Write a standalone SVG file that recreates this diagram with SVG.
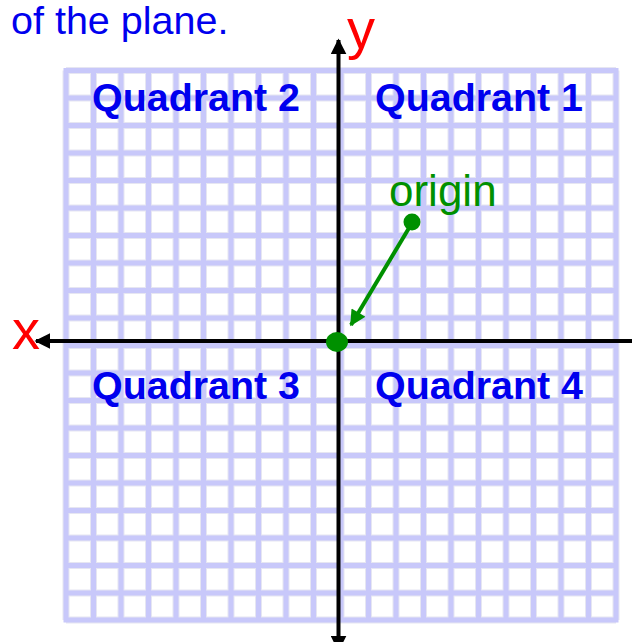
<svg xmlns="http://www.w3.org/2000/svg" width="632" height="642" viewBox="0 0 632 642">
  <style>
    .glow { stroke: #e6e6f2; stroke-width: 7; fill: none; }
    .grid { stroke: #c8c8fa; stroke-width: 5; fill: none; }
    .axis { stroke: #000; stroke-width: 4; fill: none; }
    .quad { font-family: "Liberation Sans", Arial, sans-serif; font-weight: bold; font-size: 39px; fill: #0000ee; }
    .red { font-family: "Liberation Sans", Arial, sans-serif; font-size: 56px; fill: #ff0000; }
  </style>
  <defs>
    <marker id="ah" viewBox="0 0 10 10" refX="9" refY="5" markerWidth="4" markerHeight="4" orient="auto" markerUnits="strokeWidth">
      <path d="M0,0 L10,5 L0,10 z" fill="#000"/>
    </marker>
    <marker id="gh" viewBox="0 0 10 10" refX="9" refY="5" markerWidth="4.5" markerHeight="4" orient="auto" markerUnits="strokeWidth">
      <path d="M0,0 L10,5 L0,10 z" fill="#009000"/>
    </marker>
  </defs>
  <rect width="632" height="642" fill="#fff"/>
  <text x="11" y="34" font-family="Liberation Sans, Arial, sans-serif" font-size="39.5" fill="#0000ee">of the plane.</text>
  <g id="grid">
    <path class="glow" d="M66,70.5V620 M93.5,70.5V620 M121,70.5V620 M148.5,70.5V620 M176,70.5V620 M203.5,70.5V620 M231,70.5V620 M258.5,70.5V620 M286,70.5V620 M313.5,70.5V620 M341,70.5V620 M368.5,70.5V620 M396,70.5V620 M423.5,70.5V620 M451,70.5V620 M478.5,70.5V620 M506,70.5V620 M533.5,70.5V620 M561,70.5V620 M588.5,70.5V620 M616,70.5V620 M66,70.5H616 M66,98H616 M66,125.5H616 M66,153H616 M66,180.5H616 M66,208H616 M66,235.5H616 M66,263H616 M66,290.5H616 M66,318H616 M66,345.5H616 M66,373H616 M66,400.5H616 M66,428H616 M66,455.5H616 M66,483H616 M66,510.5H616 M66,538H616 M66,565.5H616 M66,593H616 M66,620H616"/>
    <path class="grid" d="M66,68V622.5 M93.5,68V622.5 M121,68V622.5 M148.5,68V622.5 M176,68V622.5 M203.5,68V622.5 M231,68V622.5 M258.5,68V622.5 M286,68V622.5 M313.5,68V622.5 M341,68V622.5 M368.5,68V622.5 M396,68V622.5 M423.5,68V622.5 M451,68V622.5 M478.5,68V622.5 M506,68V622.5 M533.5,68V622.5 M561,68V622.5 M588.5,68V622.5 M616,68V622.5 M63.5,70.5H618.5 M63.5,98H618.5 M63.5,125.5H618.5 M63.5,153H618.5 M63.5,180.5H618.5 M63.5,208H618.5 M63.5,235.5H618.5 M63.5,263H618.5 M63.5,290.5H618.5 M63.5,318H618.5 M63.5,345.5H618.5 M63.5,373H618.5 M63.5,400.5H618.5 M63.5,428H618.5 M63.5,455.5H618.5 M63.5,483H618.5 M63.5,510.5H618.5 M63.5,538H618.5 M63.5,565.5H618.5 M63.5,593H618.5 M63.5,620H618.5"/>
  </g>
  <g id="q2"><text class="quad" x="92" y="111" textLength="208" lengthAdjust="spacingAndGlyphs">Quadrant 2</text></g>
  <g id="q1"><text class="quad" x="375" y="111" textLength="208" lengthAdjust="spacingAndGlyphs">Quadrant 1</text></g>
  <g id="q3"><text class="quad" x="92" y="399" textLength="208" lengthAdjust="spacingAndGlyphs">Quadrant 3</text></g>
  <g id="q4"><text class="quad" x="375" y="399" textLength="208" lengthAdjust="spacingAndGlyphs">Quadrant 4</text></g>
  <g id="connectors">
    <line class="axis" x1="338.5" y1="341" x2="338.5" y2="40" marker-end="url(#ah)"/>
    <line class="axis" x1="338.5" y1="341" x2="338.5" y2="650" marker-end="url(#ah)"/>
    <line class="axis" x1="338.5" y1="341" x2="36" y2="341" marker-end="url(#ah)"/>
    <line class="axis" x1="338.5" y1="341" x2="640" y2="341"/>
    <line x1="412" y1="223" x2="351" y2="325" stroke="#009000" stroke-width="4" marker-end="url(#gh)"/>
  </g>
  <g id="labels">
    <text class="red" x="347" y="48">y</text>
    <text class="red" x="12" y="349">x</text>
  </g>
  <g id="origin">
    <ellipse cx="337" cy="342" rx="11" ry="10" fill="#009000"/>
    <circle cx="412" cy="222" r="8.5" fill="#009000"/>
    <text x="389" y="206" font-family="Liberation Sans, Arial, sans-serif" font-size="44" fill="#009000">origin</text>
  </g>
</svg>
